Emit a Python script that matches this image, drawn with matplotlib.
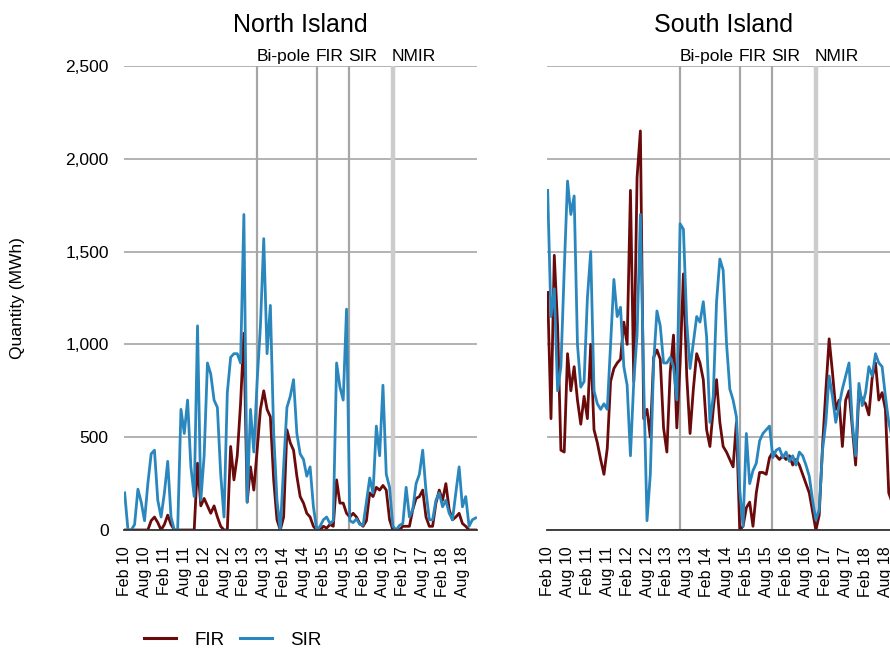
import numpy as np
import matplotlib
matplotlib.use("Agg")
import matplotlib.pyplot as plt
from matplotlib.lines import Line2D
from matplotlib.ticker import FuncFormatter

plt.rcParams['font.family'] = ['Liberation Sans', 'DejaVu Sans']

# monthly points, month 0 = Feb 2010
months = np.arange(107)

north_fir = [0, 0, 0, 0, 0, 0, 0, 0, 50, 70, 40, 0, 30, 80, 30, 0, 0, 0, 0, 0,
             0, 0, 360, 130, 170, 130, 90, 130, 70, 20, 0, 0, 450, 270, 400, 680,
             1060, 150, 340, 215, 430, 650, 750, 650, 610, 270, 55, 0, 70, 540,
             470, 430, 290, 180, 145, 90, 70, 20, 0, 0, 20, 10, 30, 20, 270, 145,
             145, 90, 70, 90, 70, 35, 20, 50, 200, 180, 230, 215, 240, 215, 55, 0,
             0, 0, 20, 20, 20, 110, 170, 180, 215, 70, 20, 20, 145, 215, 160, 250,
             110, 55, 70, 90, 35, 20, 0, 0, 0]
north_sir = [200, 0, 0, 30, 220, 150, 50, 250, 410, 430, 160, 70, 200, 370, 70, 0,
             0, 650, 520, 700, 340, 180, 1100, 160, 400, 900, 840, 700, 660, 300,
             70, 740, 930, 950, 950, 900, 1700, 150, 650, 420, 800, 1100, 1570, 950,
             1210, 520, 160, 0, 340, 660, 720, 810, 520, 410, 380, 290, 340, 125, 0,
             20, 55, 70, 35, 50, 900, 770, 700, 1190, 50, 40, 60, 30, 25, 150, 280,
             200, 560, 400, 780, 300, 230, 20, 0, 25, 35, 230, 70, 110, 250, 300,
             430, 210, 55, 55, 160, 200, 125, 160, 90, 55, 200, 340, 125, 180, 20,
             55, 65]
south_fir = [1280, 600, 1480, 1100, 430, 420, 950, 750, 880, 700, 570, 720, 600,
             1000, 540, 470, 380, 300, 440, 800, 870, 900, 920, 1120, 1000, 1830,
             800, 1900, 2150, 600, 650, 500, 930, 970, 920, 550, 420, 850, 1050,
             550, 900, 1380, 830, 520, 760, 950, 900, 810, 540, 450, 650, 810, 580,
             450, 420, 380, 340, 580, 0, 20, 120, 150, 20, 200, 310, 310, 300, 390,
             420, 400, 380, 400, 380, 400, 350, 380, 350, 300, 250, 200, 100, 0, 80,
             450, 750, 1030, 850, 650, 700, 450, 700, 750, 550, 350, 750, 700, 680,
             620, 820, 900, 700, 740, 650, 200, 150, 200, 180]
south_sir = [1830, 1150, 1300, 750, 880, 1400, 1880, 1700, 1800, 1000, 770, 800,
             1250, 1500, 750, 680, 650, 680, 650, 1000, 1350, 1150, 1200, 880, 780,
             400, 800, 1050, 1700, 800, 50, 300, 900, 1180, 1100, 900, 900, 930, 880,
             700, 1650, 1620, 1120, 870, 1010, 1150, 1120, 1230, 1040, 580, 720, 1230,
             1460, 1400, 1010, 760, 700, 610, 215, 20, 520, 250, 320, 360, 480, 520,
             540, 560, 390, 430, 440, 390, 420, 370, 400, 350, 420, 400, 350, 290,
             160, 55, 110, 430, 580, 830, 720, 580, 670, 760, 830, 900, 580, 400, 790,
             670, 740, 880, 830, 950, 900, 880, 720, 580, 500, 450, 480]

tick_pos = np.arange(0, 103, 6)
tick_labels = []
for yr in range(10, 19):
    tick_labels += ['Feb %d' % yr, 'Aug %d' % yr]

events = ['Bi-pole', 'FIR', 'SIR', 'NMIR']
event_pos = [40.0, 58.0, 67.7, 80.9]

fir_col = '#6b0a0a'
sir_col = '#2a87bd'
grid_col = '#a6a6a6'

fig = plt.figure(figsize=(8.9, 6.49), dpi=100)
W, H = 890.0, 649.0
ax1 = fig.add_axes([124 / W, (H - 530) / H, 353 / W, 464 / H])
ax2 = fig.add_axes([547 / W, (H - 530) / H, 353 / W, 464 / H])

panels = [(ax1, 'North Island', north_fir, north_sir),
          (ax2, 'South Island', south_fir, south_sir)]

for ax, title, fir, sir in panels:
    ax.set_xlim(-0.2, 106.4)
    ax.set_ylim(0, 2500)
    ax.set_yticks([0, 500, 1000, 1500, 2000, 2500])
    ax.yaxis.grid(True, color=grid_col, lw=1.2)
    ax.set_axisbelow(True)
    for s in ['left', 'right', 'top']:
        ax.spines[s].set_visible(False)
    ax.spines['bottom'].set_color('#333333')
    ax.spines['bottom'].set_linewidth(1.3)
    ax.spines['bottom'].set_zorder(5)
    ax.tick_params(length=0)
    ax.set_xticks(tick_pos)
    ax.set_xticklabels(tick_labels, rotation=90, fontsize=11.5)
    ax.tick_params(axis='x', pad=12)

    for name, pos in zip(events, event_pos):
        if name == 'NMIR':
            ax.axvline(pos, color='#cccccc', lw=3.2, zorder=1)
        else:
            ax.axvline(pos, color=grid_col, lw=1.6, zorder=1)
        ax.text(pos - 0.3, 2510, name, fontsize=12.5, ha='left', va='bottom')

    ax.plot(months, fir, color=fir_col, lw=2.0, zorder=3)
    ax.plot(months, sir, color=sir_col, lw=2.0, zorder=3)

    ax.text(0.5, 1.0 + 41 / 464, title, transform=ax.transAxes, ha='center',
            va='center', fontsize=18)

ax1.yaxis.set_major_formatter(FuncFormatter(lambda v, p: '{:,.0f}'.format(v)))
ax1.tick_params(axis='y', labelsize=12.5, pad=11)
ax1.set_ylabel('Quantity (MWh)', fontsize=12.5, va='center')
ax1.yaxis.set_label_coords(-106 / 353, 0.5)
ax2.set_yticklabels([])

handles = [Line2D([], [], color=fir_col, lw=2.2),
           Line2D([], [], color=sir_col, lw=2.2)]
fig.legend(handles, ['FIR', 'SIR'], loc='center left',
           bbox_to_anchor=(127 / W, 9 / H), ncol=2, frameon=False,
           fontsize=13.5, handlelength=1.7, handletextpad=1.0,
           columnspacing=0.8)

fig.savefig('out.png', dpi=100)
